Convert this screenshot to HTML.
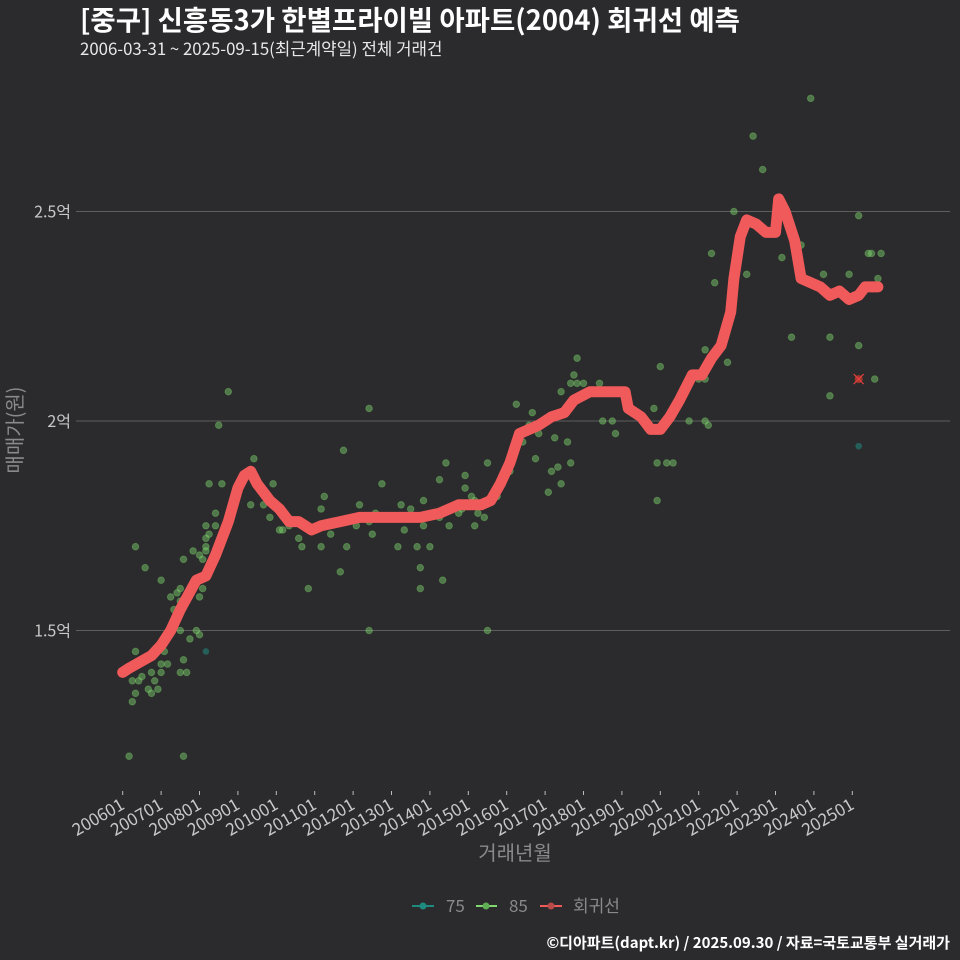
<!DOCTYPE html>
<html><head><meta charset="utf-8">
<style>
html,body{margin:0;padding:0;background:#2b2a2c;}
svg{display:block;font-family:"Noto Sans CJK KR","Liberation Sans",sans-serif;}
</style></head>
<body>
<svg id="chart" width="960" height="960" viewBox="0 0 960 960">
<rect width="960" height="960" fill="#2b2a2c"/>
<text x="80" y="30" fill="#ffffff" font-size="27.5" font-weight="bold">[중구] 신흥동3가 한별프라이빌 아파트(2004) 회귀선 예측</text>
<text x="80" y="55" fill="#e8e8e8" font-size="16.8">2006-03-31 ~ 2025-09-15(최근계약일) 전체 거래건</text>
<g id="grid"></g>
<g id="yticks"></g>
<g id="xticks"></g>
<g id="points"></g>
<g id="line"></g>
<text transform="translate(22,430) rotate(-90)" text-anchor="middle" fill="#8a8a8a" font-size="20">매매가(원)</text>
<text x="515" y="860" text-anchor="middle" fill="#8a8a8a" font-size="20">거래년월</text>
<g>
 <g>
  <line x1="412" y1="906" x2="434" y2="906" stroke="#1f8a80" stroke-width="2"/>
  <circle cx="423" cy="906" r="3.5" fill="#1f8a80"/>
  <text x="446" y="912" fill="#8a8a8a" font-size="17">75</text>
 </g>
 <g>
  <line x1="476" y1="906" x2="497" y2="906" stroke="#7ed86e" stroke-width="2"/>
  <circle cx="486" cy="906" r="3.5" fill="#5fae55"/>
  <text x="509" y="912" fill="#8a8a8a" font-size="17">85</text>
 </g>
 <g>
  <line x1="540" y1="906" x2="562" y2="906" stroke="#f05a5a" stroke-width="2"/>
  <circle cx="551" cy="906" r="3.5" fill="#b84a4a"/>
  <text x="573" y="912" fill="#8a8a8a" font-size="17">회귀선</text>
 </g>
</g>
<text x="950" y="948" text-anchor="end" fill="#ffffff" font-size="15" font-weight="bold">©디아파트(dapt.kr) / 2025.09.30 / 자료=국토교통부 실거래가</text>
</svg>
<script>
// months since 2006-01, values in 억
const lineMonths=[0,2,9,12,15,18,23,26,29,33,36,38,40,42,46,49,52,55,59,62,68,74,80,87,93,99,105,112,115,118,121,124,127,130,134,138,141,146,152,157,158,162,165,168,171,174,178,181,184,187,190,191,193,195,198,201,204,205,207,210,212,215,218,221,224,227,230,232,236];
const lineValues=[1.40,1.41,1.44,1.465,1.50,1.55,1.62,1.63,1.68,1.76,1.84,1.87,1.88,1.85,1.81,1.79,1.76,1.76,1.74,1.75,1.76,1.77,1.77,1.77,1.77,1.78,1.80,1.80,1.81,1.85,1.90,1.97,1.98,1.99,2.01,2.02,2.05,2.07,2.07,2.07,2.03,2.01,1.98,1.98,2.01,2.05,2.11,2.11,2.15,2.18,2.26,2.34,2.44,2.48,2.47,2.45,2.45,2.53,2.50,2.43,2.34,2.33,2.32,2.30,2.31,2.29,2.30,2.32,2.32];
const ptMonths85=[4,7,12,4,3,4,3,5,6,8,9,9,10,11,12,12,14,13,2,19,19,18,20,21,23,24,18,16,15,17,18,18,19,22,24,25,26,26,26,27,26,29,29,24,25,27,31,30,33,40,41,44,46,47,49,50,52,55,56,58,60,62,62,63,65,69,68,70,73,74,77,77,77,78,79,81,86,87,88,89,90,92,93,93,94,94,96,99,99,100,101,102,105,106,107,107,109,110,110,111,113,114,114,117,119,121,123,125,127,128,129,130,133,134,135,136,137,137,139,140,140,141,142,142,144,146,149,150,152,153,154,158,166,167,167,168,170,172,177,180,182,182,182,183,184,185,187,189,191,195,197,200,206,209,211,212,215,219,221,221,227,230,230,233,234,235,237,236];
const ptValues85=[1.70,1.65,1.62,1.45,1.33,1.35,1.38,1.38,1.39,1.36,1.35,1.40,1.38,1.36,1.40,1.42,1.42,1.45,1.20,1.20,1.43,1.40,1.40,1.48,1.50,1.49,1.50,1.55,1.58,1.59,1.60,1.57,1.67,1.69,1.68,1.67,1.70,1.69,1.72,1.73,1.75,1.75,1.78,1.58,1.60,1.85,1.85,1.99,2.07,1.80,1.91,1.80,1.77,1.85,1.74,1.74,1.75,1.72,1.70,1.60,1.74,1.70,1.79,1.82,1.73,1.93,1.64,1.70,1.75,1.80,1.76,1.50,2.03,1.73,1.78,1.85,1.70,1.80,1.74,1.77,1.79,1.70,1.65,1.60,1.81,1.75,1.70,1.86,1.77,1.62,1.90,1.75,1.78,1.79,1.87,1.84,1.82,1.75,1.81,1.78,1.77,1.50,1.90,1.82,1.87,1.88,2.04,1.95,1.99,2.02,1.91,1.97,1.83,1.88,1.96,1.89,1.85,2.07,1.95,1.90,2.09,2.11,2.15,2.09,2.09,2.07,2.09,2.00,2.07,2.00,1.97,2.05,2.03,1.81,1.90,2.13,1.90,1.90,2.00,2.10,2.17,2.10,2.00,1.99,2.40,2.33,2.18,2.14,2.50,2.35,2.68,2.60,2.39,2.20,2.40,2.42,2.77,2.35,2.20,2.06,2.35,2.49,2.18,2.40,2.40,2.10,2.40,2.34];
const ptMonths75=[26,230];
const ptValues75=[1.45,1.94];
const predMonths=[230];
const predValues=[2.10];
const yTicks=[1.5,2.0,2.5];
const yTickLabels=["1.5억","2억","2.5억"];
const xTickLabels=["200601","200701","200801","200901","201001","201101","201201","201301","201401","201501","201601","201701","201801","201901","202001","202101","202201","202301","202401","202501"];

const NS="http://www.w3.org/2000/svg";
function xScale(m){return 122.7+m*3.2;}
function yScale(v){return 421-(v-2)*419;}
function mk(tag,attrs,parent){const e=document.createElementNS(NS,tag);for(const k in attrs)e.setAttribute(k,attrs[k]);parent.appendChild(e);return e;}

const grid=document.getElementById('grid'),yt=document.getElementById('yticks'),xt=document.getElementById('xticks');
yTicks.forEach((v,i)=>{
  const l=mk('line',{x1:76,x2:950,y1:yScale(v),y2:yScale(v),stroke:'#5e5e5e','stroke-width':1},grid);
  
  
  const t=mk('text',{x:71,y:yScale(v)+6,'text-anchor':'end',fill:'#c8c8c8','font-size':16},yt);
  t.textContent=yTickLabels[i];
  
  
});
xTickLabels.forEach((s,i)=>{
  const x=xScale(i*12);
  const tk=mk('line',{x1:x,x2:x,y1:791,y2:795,stroke:'#bdbdbd','stroke-width':1},xt);
  
  
  const t=mk('text',{transform:`translate(${x+3},${808}) rotate(-30)`,'text-anchor':'end',fill:'#c8c8c8','font-size':17},xt);
  t.textContent=s;
  
  
});
const pg=document.getElementById('points');
ptMonths85.forEach((m,i)=>{
  const c=mk('circle',{cx:xScale(m),cy:yScale(ptValues85[i]),r:3.3,fill:'#7ed86e','fill-opacity':0.45,stroke:'#7ed86e','stroke-opacity':0.35,'stroke-width':1},pg);
  
  
});
ptMonths75.forEach((m,i)=>{
  const c=mk('circle',{cx:xScale(m),cy:yScale(ptValues75[i]),r:3.3,fill:'#1f8a80','fill-opacity':0.55},pg);
  
  
});
predMonths.forEach((m,i)=>{
  const cx=xScale(m),cy=yScale(predValues[i]);
  const c=mk('circle',{cx:cx,cy:cy,r:4,fill:'#c0392b','fill-opacity':0.8},pg);
  
  
  mk('path',{d:`M${cx-5},${cy-5}L${cx+5},${cy+5}M${cx-5},${cy+5}L${cx+5},${cy-5}`,stroke:'#e04040','stroke-width':1.2},pg);
});
const lg=document.getElementById('line');
const d=lineMonths.map((m,i)=>(i?'L':'M')+xScale(m).toFixed(1)+','+yScale(lineValues[i]).toFixed(1)).join('');
const p=mk('path',{d:d,fill:'none',stroke:'#f05a5a','stroke-width':11,'stroke-linejoin':'round','stroke-linecap':'round'},lg);


</script>
</body></html>
